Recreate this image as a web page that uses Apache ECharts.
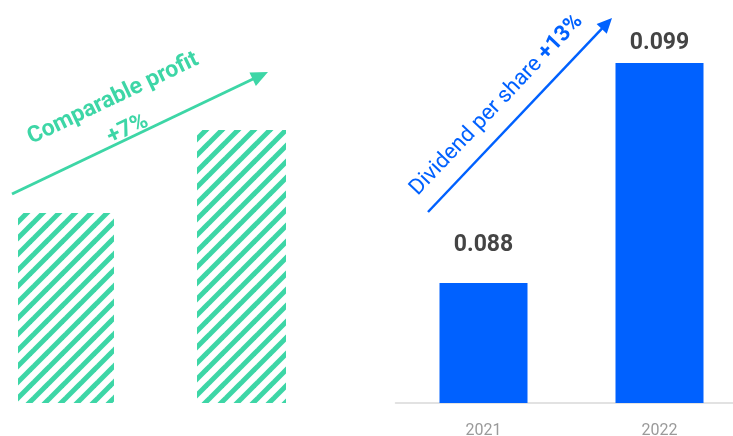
<!DOCTYPE html>
<html>
<head>
<meta charset="utf-8">
<title>Comparable profit and dividend per share</title>
<script src="https://cdn.jsdelivr.net/npm/echarts@6/dist/echarts.min.js"></script>
<style>
  html, body { margin: 0; padding: 0; background: #ffffff; }
  #chart { width: 733px; height: 436px; }
</style>
</head>
<body>
<div id="chart"></div>
<script>
// Comparable profit, shown as an index (2021 = 100, +7% in 2022)
const profitYears = ['2021', '2022'];
const profitIndex = [100, 107];

// Dividend per share, EUR
const dividendYears = ['2021', '2022'];
const dividendValues = [0.088, 0.099];

const GREEN = '#3dd6a6';
const BLUE = '#0061ff';
const FONT = 'Roboto, "Noto Sans", sans-serif';

// Diagonal hatching used for the comparable profit bars
function stripePattern(color) {
  const s = 16;
  const c = document.createElement('canvas');
  c.width = s; c.height = s;
  const g = c.getContext('2d');
  g.strokeStyle = color;
  g.lineWidth = 5;
  [-s, 0, s].forEach(function (o) {
    g.beginPath();
    g.moveTo(o - 2, s + 2);
    g.lineTo(o + s + 2, -2);
    g.stroke();
  });
  return { image: c, repeat: 'repeat' };
}

const hatch = stripePattern(GREEN);
const chart = echarts.init(document.getElementById('chart'), null, { renderer: 'canvas' });

// Each profit bar gets its own series so the two bars can differ in width;
// the wider 2021 bar is listed last so it sits centred on its category.
const profitWidths = [96, 89];
const profitSeries = [1, 0].map(function (i) {
  return {
    type: 'bar',
    xAxisIndex: 0,
    yAxisIndex: 0,
    barWidth: profitWidths[i],
    barGap: '-100%',
    silent: true,
    itemStyle: { color: hatch },
    data: profitIndex.map(function (w, j) { return j === i ? w : '-'; })
  };
});

const labelDistances = [26, 8];

chart.setOption({
  animation: false,
  grid: [
    { left: -23.5, width: 358, top: 94.25, bottom: 33, outerBoundsMode: 'none', containLabel: false },
    { left: 395.5, width: 352, top: 43, bottom: 33, outerBoundsMode: 'none', containLabel: false }
  ],
  xAxis: [
    { gridIndex: 0, type: 'category', data: profitYears, show: false },
    {
      gridIndex: 1, type: 'category', data: dividendYears,
      axisLine: { lineStyle: { color: '#d9d9d9', width: 1.5 } },
      axisTick: { length: 5, lineStyle: { color: '#d9d9d9', width: 1.5 } },
      axisLabel: { color: '#9a9a9a', fontSize: 16, fontFamily: FONT, margin: 20 }
    }
  ],
  yAxis: [
    { gridIndex: 0, type: 'value', min: 84, max: 110, show: false },
    { gridIndex: 1, type: 'value', min: 0.082, max: 0.1, show: false }
  ],
  series: profitSeries.concat([{
    type: 'bar',
    xAxisIndex: 1,
    yAxisIndex: 1,
    barWidth: 88,
    silent: true,
    itemStyle: { color: BLUE },
    data: dividendValues.map(function (v, i) {
      return { value: v, label: { distance: labelDistances[i] } };
    }),
    label: {
      show: true,
      position: 'top',
      color: '#444444',
      fontSize: 23,
      fontWeight: 'bold',
      fontFamily: FONT,
      formatter: function (p) { return p.value.toFixed(3); }
    }
  }])
});

// Arrow annotations, anchored to the tops of the bars
function arrow(x1, y1, x2, y2, color, width, headLen, headHalf) {
  const dx = x2 - x1, dy = y2 - y1;
  const len = Math.sqrt(dx * dx + dy * dy);
  const ux = dx / len, uy = dy / len;
  const bx = x2 - ux * headLen, by = y2 - uy * headLen;
  const nx = -uy, ny = ux;
  return [
    {
      type: 'line', silent: true,
      shape: { x1: x1, y1: y1, x2: bx + ux, y2: by + uy },
      style: { stroke: color, lineWidth: width }
    },
    {
      type: 'polygon', silent: true,
      shape: { points: [[x2, y2], [bx + nx * headHalf, by + ny * headHalf], [bx - nx * headHalf, by - ny * headHalf]] },
      style: { fill: color }
    }
  ];
}

const L1 = chart.convertToPixel({ xAxisIndex: 0, yAxisIndex: 0 }, [0, profitIndex[0]]);
const L2 = chart.convertToPixel({ xAxisIndex: 0, yAxisIndex: 0 }, [1, profitIndex[1]]);
const R1 = chart.convertToPixel({ xAxisIndex: 1, yAxisIndex: 1 }, [0, dividendValues[0]]);
const R2 = chart.convertToPixel({ xAxisIndex: 1, yAxisIndex: 1 }, [1, dividendValues[1]]);

const leftStart = [L1[0] - 54, L1[1] - 19];
const leftEnd = [L1[0] + 202, L2[1] - 58];
const rightStart = [R1[0] - 55.5, R1[1] - 71];
const rightEnd = [R2[0] - 47.5, R2[1] - 45];

const leftAngle = Math.atan2(leftStart[1] - leftEnd[1], leftEnd[0] - leftStart[0]);
const rightAngle = Math.atan2(rightStart[1] - rightEnd[1], rightEnd[0] - rightStart[0]);

const profitGrowth = Math.round((profitIndex[1] / profitIndex[0] - 1) * 100);
const dividendGrowth = Math.round((dividendValues[1] / dividendValues[0] - 1) * 100);

chart.setOption({
  graphic: []
    .concat(arrow(leftStart[0], leftStart[1], leftEnd[0], leftEnd[1], GREEN, 3, 17, 7.5))
    .concat(arrow(rightStart[0], rightStart[1], rightEnd[0], rightEnd[1], BLUE, 2.5, 15, 7))
    .concat([
      {
        type: 'text', silent: true,
        x: L1[0] + 54.5, y: L1[1] - 99,
        rotation: leftAngle,
        style: {
          text: 'Comparable profit\n+' + profitGrowth + '%',
          fill: GREEN,
          font: 'bold 23px ' + FONT,
          lineHeight: 34,
          align: 'center',
          verticalAlign: 'middle'
        }
      },
      {
        type: 'text', silent: true,
        x: R1[0] + 13, y: R1[1] - 178,
        rotation: rightAngle,
        style: {
          text: 'Dividend per share {b|+' + dividendGrowth + '%}',
          fill: BLUE,
          font: '22px ' + FONT,
          align: 'center',
          verticalAlign: 'middle',
          rich: {
            b: { fontWeight: 'bold', fontSize: 22, fontFamily: FONT, fill: BLUE, color: BLUE }
          }
        }
      }
    ])
});
</script>
</body>
</html>
